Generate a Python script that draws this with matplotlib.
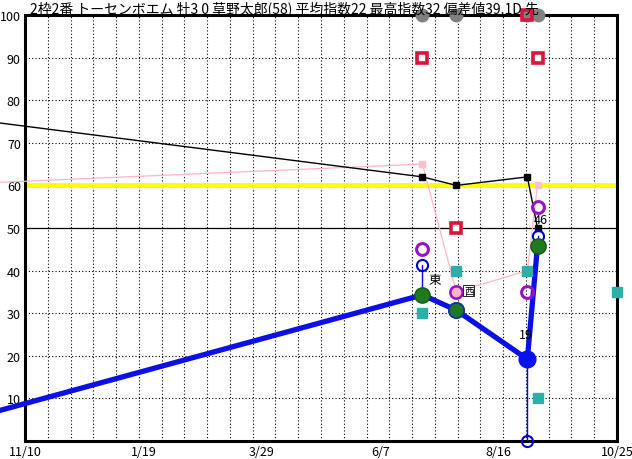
import numpy as np
import matplotlib
matplotlib.use("Agg")
import matplotlib.pyplot as plt
import matplotlib.dates as mdates
import datetime as dt

plt.rcParams['font.family'] = ['Noto Sans CJK JP', 'DejaVu Sans']

title = '2枠2番 トーセンボエム 牡3 0 草野太郎(58) 平均指数22 最高指数32 偏差値39.1D 先'

# x range and tick labels
x_start = dt.date(2023, 11, 10)
x_end = dt.date(2024, 10, 25)
tick_dates = [dt.date(2023, 11, 10), dt.date(2024, 1, 19), dt.date(2024, 3, 29),
              dt.date(2024, 6, 7), dt.date(2024, 8, 16), dt.date(2024, 10, 25)]
tick_labels = ['11/10', '1/19', '3/29', '6/7', '8/16', '10/25']

# race dates (first one lies before the visible range)
races = [dt.date(2023, 8, 21), dt.date(2024, 7, 2), dt.date(2024, 7, 22),
         dt.date(2024, 9, 2), dt.date(2024, 9, 8)]
black_vals = [78, 62, 60, 62, 50]
pink_vals = [59.6, 65, 35, 40, 60]
blue_vals = [0, 34.3, 30.7, 19.2, 45.8]
main_colors = [None, 'green', 'green', 'blue', 'green']

hi_dates = [races[1], races[3], races[4]]
hi_vals = [41.2, 0, 48.1]
hi_base = [34.3, 19.2, 45.8]

purple_dates = races[1:]
purple_vals = [45, 35, 35, 55]

teal_dates = races[1:] + [dt.date(2024, 10, 25)]
teal_vals = [30, 40, 40, 10, 35]

red_dates = races[1:]
red_vals = [90, 50, 100, 90]

gray_dates = races[1:]
gray_vals = [100, 100, 100, 100]

avg_line = 60

labels = [(races[1], 41.2, '東'), (races[2], 35, '西'), (races[3], 19.2, '19'), (races[4], 50, '46')]

fig = plt.figure(figsize=(6.32, 4.6), dpi=100)
ax = fig.add_axes([25/632, 18/460, 592/632, 426/460])

ax.set_xlim(mdates.date2num(x_start), mdates.date2num(x_end))
ax.set_ylim(0, 100)

# grid
ax.set_yticks(range(10, 101, 10))
ax.set_yticklabels([str(v) for v in range(10, 101, 10)], fontsize=9)
ax.set_xticks([mdates.date2num(d) for d in tick_dates])
ax.set_xticklabels(tick_labels, fontsize=9)
ax.set_xticks(np.linspace(mdates.date2num(x_start), mdates.date2num(x_end), 27)[1:-1], minor=True)
ax.tick_params(which='both', length=0, pad=3)
for v in range(10, 100, 10):
    if v == 50:
        ax.axhline(v, color='black', lw=0.9, zorder=1)
    else:
        ax.axhline(v, color='black', lw=0.8, ls=(0, (1, 2)), zorder=1)
for xv in ax.get_xticks(minor=True):
    ax.axvline(xv, color='black', lw=0.8, ls=(0, (1, 2)), zorder=1)
for s in ax.spines.values():
    s.set_linewidth(2.2)

ax.axhline(avg_line, color='#ffff00', lw=3.5, zorder=2)

ax.plot(races, pink_vals, color='#ffb6c1', lw=0.9, zorder=3, clip_on=False)
ax.plot([races[1], races[4]], [pink_vals[1], pink_vals[4]], 's', color='#ffc0cb', ms=5, zorder=3)
ax.plot(races, black_vals, color='black', lw=1, zorder=4, clip_on=False)
ax.plot(races[1:], black_vals[1:], 's', color='black', ms=4.5, zorder=4)

# thin blue range lines
for d, hv, bv in zip(hi_dates, hi_vals, hi_base):
    ax.plot([d, d], [hv, bv], color='blue', lw=1, zorder=5)
ax.plot(hi_dates, hi_vals, 'o', mfc='none', mec='#0000cc', mew=1.5, ms=8, zorder=6, clip_on=False)

ax.plot(races, blue_vals, color='#0a10e6', lw=3.8, zorder=6, clip_on=False)

ax.plot(teal_dates, teal_vals, 's', color='#2ab0a8', ms=6.5, zorder=7, clip_on=False)
ax.plot(purple_dates, purple_vals, 'o', mfc='none', mec='#9a10c8', mew=2.2, ms=8.5, zorder=7)
ax.plot(races[2], pink_vals[2], 'o', color='#ffb6c1', ms=6, zorder=7)

for d, v, c in zip(races[1:], blue_vals[1:], main_colors[1:]):
    if c == 'green':
        ax.plot(d, v, 'o', mfc='#1f7a1f', mec='#145a14', ms=11, zorder=8)
    else:
        ax.plot(d, v, 'o', color='#0a10f0', ms=12, zorder=8)
ax.plot(races[2], blue_vals[2], 'o', mfc='none', mec='#1030b0', mew=1.2, ms=11, zorder=8)

ax.plot(gray_dates, gray_vals, 'o', color='#808080', ms=9, zorder=9, clip_on=False)
for d, v in zip(red_dates, red_vals):
    face = '#808080' if v == 100 else 'white'
    ax.plot(d, v, 's', mfc=face, mec='#dc143c', mew=2.6, ms=6.5, zorder=10, clip_on=False)

# point labels
offsets = [(9, -10), (9, 1), (-1, 18), (2, 6)]
for (d, v, t), off in zip(labels, offsets):
    kw = {}
    if t == '西':
        kw['bbox'] = dict(boxstyle='square,pad=0.05', fc='white', ec='black', lw=0.6)
    ax.annotate(t, (mdates.date2num(d), v), xytext=off, textcoords='offset points',
                ha='center', va='center', fontsize=9 if t != '西' else 7, zorder=11, **kw)

fig.text(30/632, 1 - 13/460, title, fontsize=10, ha='left', va='baseline')

fig.savefig('out.png', dpi=100)
